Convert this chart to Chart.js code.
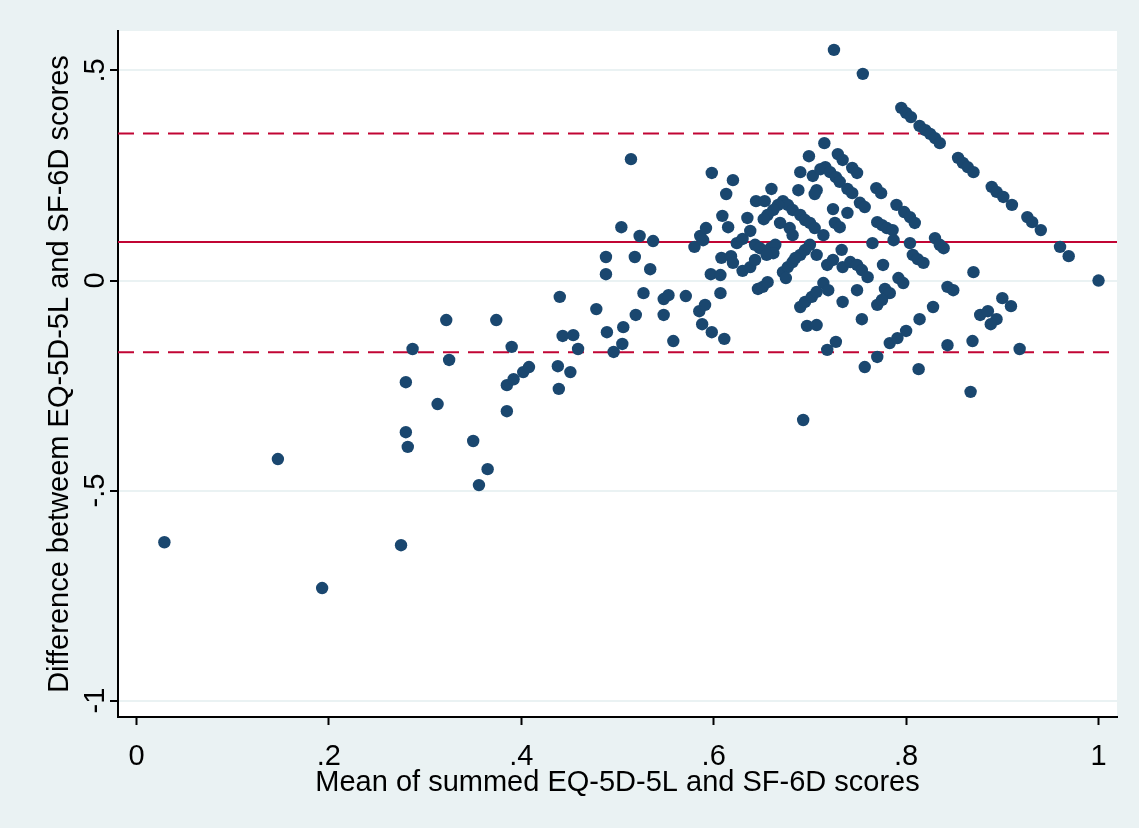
<!DOCTYPE html>
<html>
<head>
<meta charset="utf-8">
<script src="https://cdn.jsdelivr.net/npm/chart.js@4.4.1/dist/chart.umd.min.js"></script>
<style>
  html, body { margin: 0; padding: 0; background: #eaf2f3; }
  #wrap { width: 1139px; height: 828px; }
</style>
</head>
<body>
<div id="wrap"><canvas id="baChart" width="1139" height="828"></canvas></div>
<script>
// mean of the two scores (x) and their difference (y)
const meanScores = [
  0.029, 0.147, 0.193, 0.275, 0.280, 0.280, 0.282, 0.287, 0.313, 0.322,
  0.325, 0.350, 0.365, 0.356, 0.374, 0.390, 0.385, 0.385, 0.392, 0.402,
  0.408, 0.440, 0.443, 0.454, 0.459, 0.438, 0.451, 0.439, 0.478, 0.488,
  0.488, 0.489, 0.506, 0.496, 0.505, 0.504, 0.514, 0.519, 0.523, 0.537,
  0.518, 0.534, 0.527, 0.548, 0.553, 0.548, 0.558, 0.571, 0.580, 0.586,
  0.592, 0.589, 0.585, 0.591, 0.588, 0.598, 0.611, 0.607, 0.598, 0.620,
  0.613, 0.609, 0.615, 0.597, 0.607, 0.608, 0.618, 0.620, 0.624, 0.630,
  0.638, 0.635, 0.644, 0.653, 0.630, 0.638, 0.643, 0.643, 0.648, 0.659,
  0.664, 0.646, 0.651, 0.656, 0.662, 0.655, 0.660, 0.672, 0.677, 0.682,
  0.690, 0.695, 0.700, 0.705, 0.667, 0.662, 0.656, 0.652, 0.669, 0.679,
  0.682, 0.672, 0.677, 0.682, 0.675, 0.688, 0.690, 0.699, 0.703, 0.711,
  0.716, 0.721, 0.727, 0.731, 0.707, 0.705, 0.715, 0.729, 0.734, 0.744,
  0.749, 0.739, 0.744, 0.769, 0.774, 0.724, 0.739, 0.752, 0.757, 0.714,
  0.726, 0.731, 0.700, 0.695, 0.690, 0.685, 0.707, 0.733, 0.718, 0.724,
  0.734, 0.742, 0.749, 0.754, 0.760, 0.714, 0.719, 0.690, 0.695, 0.702,
  0.707, 0.734, 0.749, 0.697, 0.707, 0.727, 0.718, 0.693, 0.765, 0.770,
  0.775, 0.780, 0.786, 0.790, 0.798, 0.804, 0.809, 0.787, 0.804, 0.776,
  0.792, 0.797, 0.778, 0.783, 0.770, 0.775, 0.754, 0.770, 0.757, 0.783,
  0.791, 0.800, 0.807, 0.812, 0.818, 0.830, 0.835, 0.839, 0.828, 0.814,
  0.813, 0.843, 0.849, 0.843, 0.870, 0.877, 0.885, 0.894, 0.888, 0.869,
  0.867, 0.900, 0.909, 0.918, 0.725, 0.755, 0.795, 0.800, 0.805, 0.814,
  0.820, 0.825, 0.830, 0.835, 0.854, 0.859, 0.864, 0.870, 0.889, 0.894,
  0.901, 0.910, 0.926, 0.931, 0.940, 0.960, 0.969, 1.000
];

const scoreDiffs = [
  -0.623, -0.425, -0.732, -0.630, -0.242, -0.361, -0.396, -0.163, -0.294, -0.094,
  -0.189, -0.382, -0.449, -0.487, -0.094, -0.158, -0.311, -0.249, -0.235, -0.218,
  -0.206, -0.039, -0.132, -0.130, -0.163, -0.204, -0.218, -0.258, -0.068, 0.056,
  0.015, -0.123, -0.111, -0.170, -0.151, 0.127, 0.289, -0.082, 0.106, 0.094,
  0.056, 0.027, -0.030, -0.044, -0.035, -0.082, -0.144, -0.037, 0.080, 0.106,
  0.125, 0.096, -0.073, -0.058, -0.104, -0.123, -0.139, -0.030, 0.256, 0.239,
  0.206, 0.154, 0.127, 0.015, 0.013, 0.054, 0.058, 0.042, 0.089, 0.099,
  0.118, 0.149, 0.189, 0.189, 0.023, 0.032, 0.049, 0.085, 0.077, 0.077,
  0.085, -0.020, -0.015, -0.004, 0.065, 0.061, 0.218, 0.189, 0.180, 0.168,
  0.156, 0.144, 0.137, 0.125, 0.180, 0.168, 0.156, 0.146, 0.137, 0.125,
  0.108, 0.020, 0.032, 0.044, 0.006, 0.215, 0.258, 0.296, 0.249, 0.265,
  0.270, 0.258, 0.246, 0.235, 0.215, 0.206, 0.327, 0.301, 0.287, 0.268,
  0.256, 0.218, 0.208, 0.220, 0.208, 0.170, 0.161, 0.185, 0.175, 0.108,
  0.137, 0.127, 0.085, 0.073, 0.061, 0.054, 0.061, 0.073, 0.037, 0.049,
  0.032, 0.044, 0.037, 0.025, 0.008, -0.006, -0.023, -0.063, -0.051, -0.039,
  -0.027, -0.051, -0.023, -0.108, -0.106, -0.146, -0.165, -0.332, 0.089, 0.139,
  0.132, 0.125, 0.120, 0.180, 0.163, 0.151, 0.137, 0.096, 0.089, 0.037,
  0.006, -0.006, -0.020, -0.030, -0.058, -0.046, -0.092, -0.182, -0.206, -0.149,
  -0.137, -0.120, 0.061, 0.051, 0.042, 0.101, 0.085, 0.077, -0.063, -0.092,
  -0.211, -0.015, -0.023, -0.154, 0.020, -0.082, -0.073, -0.092, -0.104, -0.144,
  -0.265, -0.042, -0.061, -0.163, 0.549, 0.492, 0.411, 0.399, 0.389, 0.368,
  0.358, 0.349, 0.339, 0.327, 0.292, 0.280, 0.270, 0.258, 0.223, 0.211,
  0.199, 0.180, 0.151, 0.139, 0.120, 0.080, 0.058, 0.000
];

// mean difference and limits of agreement
const meanDiff = 0.092;
const upperLimit = 0.350;
const lowerLimit = -0.171;

const xTickValues = [0, 0.2, 0.4, 0.6, 0.8, 1];
const xTickLabels = ["0", ".2", ".4", ".6", ".8", "1"];
const yTickValues = [-1, -0.5, 0, 0.5];
const yTickLabels = ["-1", "-.5", "0", ".5"];

const xTitle = "Mean of summed EQ-5D-5L and SF-6D scores";
const yTitle = "Difference betweem EQ-5D-5L and SF-6D scores";

const X_MIN = -0.0192, X_MAX = 1.0192;
const Y_MIN = -1.039, Y_MAX = 0.594;
const FONT = "29px 'Liberation Sans', Arial, sans-serif";
const RED = "#c10534";

const hLine = (y) => [{ x: X_MIN, y: y }, { x: X_MAX, y: y }];

// plot region white on the light frame
const backdrop = {
  id: "backdrop",
  beforeDraw(chart) {
    const { ctx, chartArea: a } = chart;
    ctx.save();
    ctx.fillStyle = "#eaf2f3";
    ctx.fillRect(0, 0, chart.width, chart.height);
    ctx.fillStyle = "#ffffff";
    ctx.fillRect(a.left, a.top, a.right - a.left, a.bottom - a.top);
    ctx.restore();
  },
};

// tick labels and titles, y ones rotated like the original
const axisText = {
  id: "axisText",
  afterDraw(chart) {
    const { ctx, chartArea: a, scales } = chart;
    ctx.save();
    ctx.fillStyle = "#000";
    ctx.font = FONT;
    ctx.textAlign = "center";
    ctx.textBaseline = "alphabetic";
    xTickValues.forEach((v, i) => {
      ctx.fillText(xTickLabels[i], scales.x.getPixelForValue(v), 765);
    });
    ctx.fillText(xTitle, (a.left + a.right) / 2, 791);
    yTickValues.forEach((v, i) => {
      ctx.save();
      ctx.translate(104, scales.y.getPixelForValue(v));
      ctx.rotate(-Math.PI / 2);
      ctx.fillText(yTickLabels[i], 0, 0);
      ctx.restore();
    });
    ctx.translate(68, (a.top + a.bottom) / 2);
    ctx.rotate(-Math.PI / 2);
    ctx.fillText(yTitle, 0, 0);
    ctx.restore();
  },
};

const points = meanScores.map((x, i) => ({ x: x, y: scoreDiffs[i] }));

new Chart(document.getElementById("baChart"), {
  type: "scatter",
  data: {
    datasets: [
      {
        data: points,
        backgroundColor: "#1a476f",
        borderWidth: 0,
        pointRadius: 6.2,
        pointHoverRadius: 6.2,
        order: 0,
      },
      {
        data: hLine(meanDiff),
        showLine: true,
        borderColor: RED,
        borderWidth: 2,
        pointRadius: 0,
        order: 1,
      },
      {
        data: hLine(upperLimit),
        showLine: true,
        borderColor: RED,
        borderWidth: 2,
        borderDash: [16, 9],
        pointRadius: 0,
        order: 1,
      },
      {
        data: hLine(lowerLimit),
        showLine: true,
        borderColor: RED,
        borderWidth: 2,
        borderDash: [16, 9],
        pointRadius: 0,
        order: 1,
      },
    ],
  },
  options: {
    responsive: false,
    animation: false,
    devicePixelRatio: 1,
    layout: { padding: { top: 31, right: 22, bottom: 0, left: 0 } },
    plugins: { legend: { display: false }, tooltip: { enabled: false } },
    scales: {
      x: {
        type: "linear",
        min: X_MIN,
        max: X_MAX,
        afterBuildTicks: (scale) => { scale.ticks = xTickValues.map((v) => ({ value: v })); },
        afterFit: (scale) => { scale.height = 111; },
        ticks: { display: false },
        grid: { drawOnChartArea: false, drawTicks: true, tickLength: 8, tickColor: "#000", tickWidth: 2 },
        border: { color: "#000", width: 2 },
      },
      y: {
        type: "linear",
        min: Y_MIN,
        max: Y_MAX,
        afterBuildTicks: (scale) => { scale.ticks = yTickValues.map((v) => ({ value: v })); },
        afterFit: (scale) => { scale.width = 118; },
        ticks: { display: false },
        grid: { color: "#eaf2f3", lineWidth: 2, drawTicks: true, tickLength: 8, tickColor: "#000", tickWidth: 2 },
        border: { color: "#000", width: 2 },
      },
    },
  },
  plugins: [backdrop, axisText],
});
</script>
</body>
</html>
